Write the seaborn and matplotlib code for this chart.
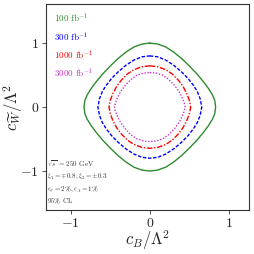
import numpy as np
import pandas as pd
import matplotlib
matplotlib.use("Agg")
import matplotlib.pyplot as plt
import seaborn as sns

# 95% CL contours, first quadrant only (the contours are symmetric)
lumi_labels = ["100 fb$^{-1}$", "300 fb$^{-1}$", "1000 fb$^{-1}$", "3000 fb$^{-1}$"]

cb_100 = [0.00, 0.10, 0.20, 0.30, 0.40, 0.50, 0.60, 0.68, 0.74, 0.79, 0.82, 0.83]
cw_100 = [1.00, 0.985, 0.94, 0.86, 0.76, 0.64, 0.51, 0.39, 0.29, 0.19, 0.10, 0.00]

cb_300 = [0.00, 0.10, 0.20, 0.30, 0.40, 0.48, 0.55, 0.60, 0.635, 0.655]
cw_300 = [0.80, 0.785, 0.735, 0.655, 0.55, 0.45, 0.34, 0.24, 0.13, 0.00]

cb_1000 = [0.00, 0.10, 0.20, 0.28, 0.36, 0.42, 0.47, 0.50, 0.515]
cw_1000 = [0.645, 0.63, 0.585, 0.52, 0.42, 0.32, 0.20, 0.10, 0.00]

cb_3000 = [0.00, 0.08, 0.16, 0.24, 0.31, 0.37, 0.41, 0.435, 0.445]
cw_3000 = [0.54, 0.53, 0.50, 0.43, 0.34, 0.24, 0.14, 0.06, 0.00]

info_lines = [r"$\sqrt{s}$ = 250 GeV",
              r"$\xi_1 = \mp 0.8, \xi_2 = \pm 0.3$",
              r"$\epsilon_\sigma = 2\%, \epsilon_A = 1\%$",
              r"95$\%$ CL"]

colors = ["#2e8b2e", "blue", "red", "#cc33cc"]


def full_loop(xs, ys):
    # mirror the quadrant into a closed curve
    xs = np.array(xs)
    ys = np.array(ys)
    q1x, q1y = xs, ys
    q4x, q4y = xs[::-1], -ys[::-1]
    q3x, q3y = -xs, -ys
    q2x, q2y = -xs[::-1], ys[::-1]
    return (np.concatenate([q1x, q4x, q3x, q2x, q1x[:1]]),
            np.concatenate([q1y, q4y, q3y, q2y, q1y[:1]]))


frames = []
for lab, xs, ys in zip(lumi_labels,
                       [cb_100, cb_300, cb_1000, cb_3000],
                       [cw_100, cw_300, cw_1000, cw_3000]):
    x, y = full_loop(xs, ys)
    frames.append(pd.DataFrame({"cB": x, "cW": y, "lumi": lab}))
df = pd.concat(frames, ignore_index=True)

sns.set_style("ticks")
plt.rcParams["font.family"] = "serif"
plt.rcParams["font.serif"] = ["cmr10"]
plt.rcParams["mathtext.fontset"] = "cm"
plt.rcParams["axes.formatter.use_mathtext"] = True

fig = plt.figure(figsize=(2.54, 2.54), dpi=100)
ax = fig.add_axes([0.181, 0.173, 0.799, 0.811])

sns.lineplot(data=df, x="cB", y="cW", hue="lumi", style="lumi",
             palette=dict(zip(lumi_labels, colors)),
             dashes={lumi_labels[0]: "", lumi_labels[1]: (2.5, 1.2),
                     lumi_labels[2]: (4, 1.2, 1, 1.2), lumi_labels[3]: (1, 1.2)},
             sort=False, estimator=None, linewidth=1.0, ax=ax)

ax.set_xlim(-1.31, 1.25)
ax.set_ylim(-1.61, 1.61)
ax.set_xticks([-1, 0, 1])
ax.set_yticks([-1, 0, 1])
ax.tick_params(labelsize=10, length=3, width=0.6, color="#333333", pad=2)
for s in ax.spines.values():
    s.set_color("#333333")
    s.set_linewidth(0.8)

ax.set_xlabel(r"$c_B/\Lambda^2$", fontsize=12)
ax.set_ylabel(r"$c_{\widetilde{W}}/\Lambda^2$", fontsize=12)
ax.xaxis.set_label_coords(0.5, -0.09)
ax.yaxis.set_label_coords(-0.105, 0.5)

leg = ax.legend(handles=ax.get_lines()[:4], labels=lumi_labels, loc="upper left",
                frameon=False, handlelength=0, handletextpad=0, fontsize=6.5,
                labelspacing=0.55, borderaxespad=0.5, labelcolor="linecolor")
for h in leg.legend_handles:
    h.set_visible(False)

for i, t in enumerate(info_lines):
    ax.text(0.005, 0.225 - i * 0.061, t, transform=ax.transAxes,
            fontsize=5, va="center", ha="left", color="#333333")

fig.savefig("out.png", dpi=100)
